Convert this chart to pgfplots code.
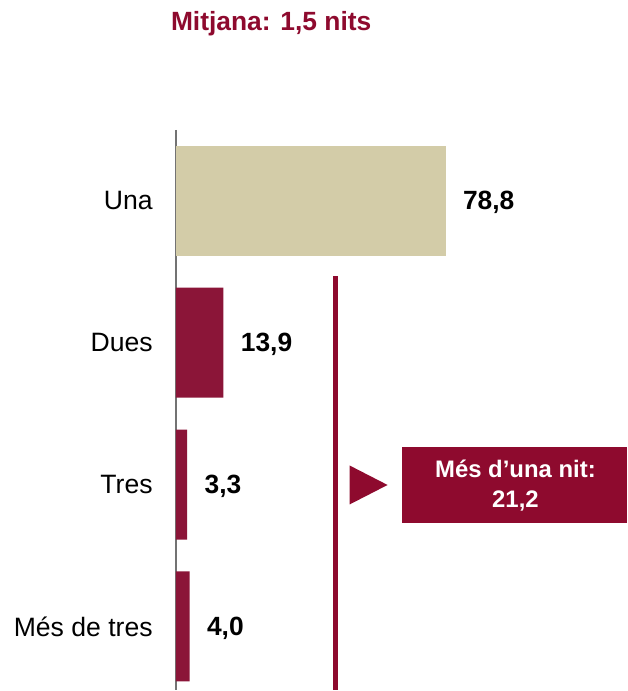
\documentclass[border=0pt]{standalone}
\usepackage{fontspec}
\setmainfont{Liberation Sans}
\usepackage{pgfplots}
\pgfplotsset{compat=1.18}
\definecolor{beige}{HTML}{D3CCA8}
\definecolor{barred}{HTML}{8B1538}
\definecolor{darkred}{HTML}{8E0A2E}
\begin{document}
\begin{tikzpicture}[x=1bp,y=1bp]
\path (0,0) rectangle (628,691);
\begin{axis}[
  at={(176bp,0bp)}, anchor=south west,
  scale only axis, width=452bp, height=561bp,
  xmin=0, xmax=131.9, ymin=-0.5, ymax=3.45,
  y dir=reverse,
  clip=false,
  axis x line=none,
  axis y line*=left,
  axis line style={-, draw=gray!90!black, line width=1.5bp},
  ytick={0,1,2,3},
  yticklabels={Una,Dues,Tres,Més de tres},
  major tick length=0pt,
  yticklabel style={font=\fontsize{26.7}{30}\selectfont, anchor=east, inner sep=0pt, xshift=-23bp},
  xbar, bar width=0.775, bar shift=0pt,
  nodes near coords,
  nodes near coords style={font=\bfseries\fontsize{26.5}{30}\selectfont, black, anchor=west, xshift=14bp, yshift=-2bp,
    /pgf/number format/.cd, fixed, fixed zerofill, precision=1, use comma, assume math mode=true},
]
\addplot[fill=beige, draw=none] coordinates {(78.8,0)};
\addplot[fill=barred, draw=none] coordinates {(13.9,1) (3.3,2) (4.0,3)};
\end{axis}
\node[font=\bfseries\fontsize{26.5}{30}\selectfont, text=darkred, anchor=west, inner sep=0pt] at (171,667) {Mitjana: 1,5 nits};
\fill[darkred] (333,0) rectangle (338.5,415);
\fill[darkred] (350,225) -- (388,205.5) -- (350,186) -- cycle;
\fill[darkred] (402,167) rectangle (628,244);
\node[font=\bfseries\fontsize{24}{29}\selectfont, text=white, align=center, inner sep=0pt] at (516,205) {Més d’una nit:\\[1pt]21,2};
\end{tikzpicture}
\end{document}
